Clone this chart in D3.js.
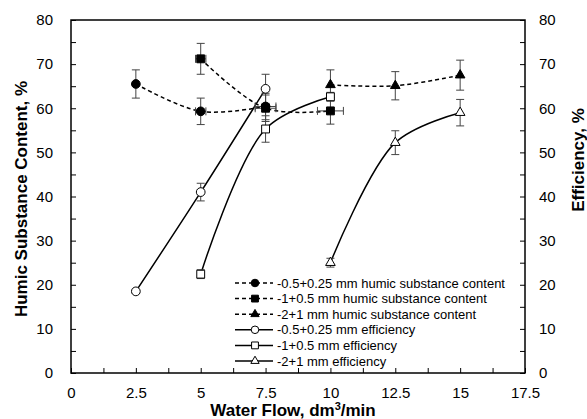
<!DOCTYPE html>
<html>
<head>
<meta charset="utf-8">
<script src="https://cdn.jsdelivr.net/npm/d3@7"></script>
<style>
  body { margin: 0; background: #fff; }
  text { font-family: "Liberation Sans", Arial, sans-serif; fill: #000; }
</style>
</head>
<body>
<div id="chart"></div>
<script>
// Data
var flowCircle = [2.5, 5, 7.5];
var flowSquare = [5, 7.5, 10];
var flowTriangle = [10, 12.5, 15];

var hscCircle = [65.5, 59.3, 60.4];
var hscCircleErr = [3.2, 3.0, 3.0];
var hscCircleXErr = [0, 0.2, 0.4];
var hscSquare = [71.2, 60.0, 59.4];
var hscSquareErr = [3.5, 3.0, 3.0];
var hscSquareXErr = [0.2, 0.4, 0.5];
var hscTriangle = [65.3, 65.1, 67.5];
var hscTriangleErr = [3.4, 3.2, 3.4];

var effCircle = [18.5, 41.0, 64.4];
var effCircleErr = [0.5, 2.0, 3.3];
var effSquare = [22.4, 55.3, 62.6];
var effSquareErr = [1.0, 3.0, 1.0];
var effTriangle = [25.0, 52.2, 59.0];
var effTriangleErr = [1.0, 2.7, 3.0];

var legendLabels = [
  "-0.5+0.25 mm humic substance content",
  "-1+0.5 mm humic substance content",
  "-2+1 mm humic substance content",
  "-0.5+0.25 mm efficiency",
  "-1+0.5 mm efficiency",
  "-2+1 mm efficiency"
];

var xTicks = [0, 2.5, 5, 7.5, 10, 12.5, 15, 17.5];
var yTicks = [0, 10, 20, 30, 40, 50, 60, 70, 80];

var svgWidth = 587;
var svgHeight = 419;
var margin = { top: 20, right: 62, bottom: 46, left: 71 };
var width = svgWidth - margin.left - margin.right;
var height = svgHeight - margin.top - margin.bottom;

var svg = d3.select("#chart")
  .append("svg")
  .attr("width", svgWidth)
  .attr("height", svgHeight);

var chartGroup = svg.append("g")
  .attr("transform", `translate(${margin.left}, ${margin.top})`);

var xScale = d3.scaleLinear().domain([0, 17.5]).range([0, width]);
var yScale = d3.scaleLinear().domain([0, 80]).range([height, 0]);

// series definitions built from the arrays
function zip(xs, ys, es, xes) {
  return xs.map(function(x, i) {
    return { x: x, y: ys[i], e: es[i], xe: xes ? xes[i] : 0 };
  });
}

var series = [
  { name: legendLabels[0], pts: zip(flowCircle, hscCircle, hscCircleErr, hscCircleXErr), sym: d3.symbolCircle, size: 60, fill: "#000", dash: "4,3" },
  { name: legendLabels[1], pts: zip(flowSquare, hscSquare, hscSquareErr, hscSquareXErr), sym: d3.symbolSquare, size: 62, fill: "#000", dash: "4,3" },
  { name: legendLabels[2], pts: zip(flowTriangle, hscTriangle, hscTriangleErr), sym: d3.symbolTriangle, size: 40, fill: "#000", dash: "4,3" },
  { name: legendLabels[3], pts: zip(flowCircle, effCircle, effCircleErr), sym: d3.symbolCircle, size: 60, fill: "#fff", dash: null },
  { name: legendLabels[4], pts: zip(flowSquare, effSquare, effSquareErr), sym: d3.symbolSquare, size: 62, fill: "#fff", dash: null },
  { name: legendLabels[5], pts: zip(flowTriangle, effTriangle, effTriangleErr), sym: d3.symbolTriangle, size: 40, fill: "#fff", dash: null }
];

// Axes
var bottomAxis = d3.axisBottom(xScale).tickValues(d3.range(0, 17.6, 1.25))
  .tickSize(-5).tickFormat(function(d) { return xTicks.indexOf(d) >= 0 ? d : ""; }).tickPadding(14);
var leftAxis = d3.axisLeft(yScale).tickValues(d3.range(0, 81, 5))
  .tickSize(-5).tickFormat(function(d) { return yTicks.indexOf(d) >= 0 ? d : ""; }).tickPadding(18);
var rightAxis = d3.axisRight(yScale).tickValues(d3.range(0, 81, 5))
  .tickSize(-5).tickFormat(function(d) { return yTicks.indexOf(d) >= 0 ? d : ""; }).tickPadding(14);

function styleAxis(g) {
  g.select(".domain").remove();
  g.selectAll("line").attr("stroke", "#000").attr("stroke-width", 1);
  g.selectAll("text").style("font-size", "15px").style("font-family", "Liberation Sans, Arial, sans-serif");
}

chartGroup.append("g").attr("transform", `translate(0, ${height})`).call(bottomAxis).call(styleAxis);
chartGroup.append("g").call(leftAxis).call(styleAxis);
chartGroup.append("g").attr("transform", `translate(${width}, 0)`).call(rightAxis).call(styleAxis);

// plot border
chartGroup.append("rect")
  .attr("x", 0).attr("y", 0)
  .attr("width", width).attr("height", height)
  .attr("fill", "none").attr("stroke", "#000").attr("stroke-width", 1.5);

// Lines
var line = d3.line()
  .x(d => xScale(d.x))
  .y(d => yScale(d.y))
  .curve(d3.curveCatmullRom.alpha(0.5));

series.forEach(function(s) {
  chartGroup.append("path")
    .datum(s.pts)
    .attr("d", line)
    .attr("fill", "none")
    .attr("stroke", "#000")
    .attr("stroke-width", 1.5)
    .attr("stroke-dasharray", s.dash);
});

// Error bars
var errColor = "#444";
series.forEach(function(s) {
  var g = chartGroup.append("g");
  s.pts.forEach(function(p) {
    var cx = xScale(p.x);
    if (p.e > 0) {
      var y1 = yScale(p.y + p.e), y2 = yScale(p.y - p.e);
      g.append("line").attr("x1", cx).attr("x2", cx).attr("y1", y1).attr("y2", y2).attr("stroke", errColor);
      g.append("line").attr("x1", cx - 4).attr("x2", cx + 4).attr("y1", y1).attr("y2", y1).attr("stroke", errColor);
      g.append("line").attr("x1", cx - 4).attr("x2", cx + 4).attr("y1", y2).attr("y2", y2).attr("stroke", errColor);
    }
    if (p.xe > 0) {
      var cy = yScale(p.y);
      var x1 = xScale(p.x - p.xe), x2 = xScale(p.x + p.xe);
      g.append("line").attr("x1", x1).attr("x2", x2).attr("y1", cy).attr("y2", cy).attr("stroke", errColor);
      g.append("line").attr("x1", x1).attr("x2", x1).attr("y1", cy - 4).attr("y2", cy + 4).attr("stroke", errColor);
      g.append("line").attr("x1", x2).attr("x2", x2).attr("y1", cy - 4).attr("y2", cy + 4).attr("stroke", errColor);
    }
  });
});

// Markers (squares first so filled circles sit on top)
[1, 2, 0, 4, 5, 3].forEach(function(i) {
  var s = series[i];
  chartGroup.selectAll(null)
    .data(s.pts)
    .enter()
    .append("path")
    .attr("d", d3.symbol().type(s.sym).size(s.size))
    .attr("transform", d => `translate(${xScale(d.x)}, ${yScale(d.y)})`)
    .attr("fill", s.fill)
    .attr("stroke", "#000")
    .attr("stroke-width", 1);
});

// Legend
var legend = svg.append("g").attr("transform", "translate(235, 283)");
series.forEach(function(s, i) {
  var row = legend.append("g").attr("transform", `translate(0, ${i * 15.6})`);
  row.append("line")
    .attr("x1", 0).attr("x2", 38).attr("y1", 0).attr("y2", 0)
    .attr("stroke", "#000").attr("stroke-width", 1.5)
    .attr("stroke-dasharray", s.dash);
  row.append("path")
    .attr("d", d3.symbol().type(s.sym).size(s.size * 0.75))
    .attr("transform", "translate(20, 0)")
    .attr("fill", s.fill).attr("stroke", "#000");
  row.append("text")
    .attr("x", 42).attr("y", 4.5)
    .style("font-size", "13px")
    .text(s.name);
});

// Axis titles
svg.append("text")
  .attr("transform", "translate(27, 199) rotate(-90)")
  .attr("text-anchor", "middle")
  .style("font-size", "17px").style("font-weight", "bold")
  .text("Humic Substance Content, %");

svg.append("text")
  .attr("transform", "translate(584, 160) rotate(-90)")
  .attr("text-anchor", "middle")
  .style("font-size", "17px").style("font-weight", "bold")
  .text("Efficiency, %");

var xt = svg.append("text")
  .attr("x", 293).attr("y", 416)
  .attr("text-anchor", "middle")
  .style("font-size", "17px").style("font-weight", "bold");
xt.append("tspan").text("Water Flow, dm");
xt.append("tspan").attr("dy", -6).style("font-size", "11px").text("3");
xt.append("tspan").attr("dy", 6).text("/min");
</script>
</body>
</html>
